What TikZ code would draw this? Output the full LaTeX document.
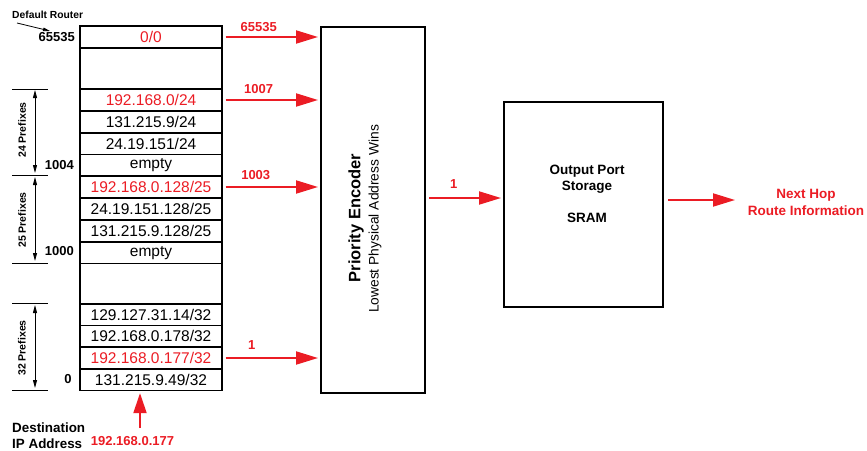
\documentclass[tikz,border=0pt]{standalone}
\usepackage{fontspec}
\setmainfont{Liberation Sans}
\usetikzlibrary{arrows.meta}
\definecolor{rd}{RGB}{235,28,36}
\begin{document}
\begin{tikzpicture}[x=1pt,y=-1pt,
  cell/.style={draw, line width=1.3pt, minimum width=142pt, inner sep=0pt,
    font=\fontsize{15.5}{18}\selectfont},
  redcell/.style={cell, text=rd},
  bigbox/.style={draw, line width=2pt, inner sep=0pt},
  redarrow/.style={draw=rd, line width=2pt, -{Triangle[length=22pt,width=13pt]}},
  blkarrow/.style={draw=black, line width=0.9pt, {Triangle[length=8pt,width=4pt]}-{Triangle[length=8pt,width=4pt]}},
  numlab/.style={font=\bfseries\fontsize{13}{15}\selectfont, inner sep=0pt},
  rednum/.style={numlab, text=rd},
  preflab/.style={font=\bfseries\fontsize{10.5}{12}\selectfont, rotate=90, inner sep=0pt},
  brk/.style={line width=0.9pt}
]
\useasboundingbox (0,0) rectangle (867,450);

% table rows
\node[redcell, minimum height=22pt]   (r0)  at (151,37)     {0/0};
\node[cell,    minimum height=41pt]   (g0)  at (151,68.5)   {};
\node[redcell, minimum height=22pt]   (r1)  at (151,100)    {192.168.0/24};
\node[cell,    minimum height=22pt]   (r2)  at (151,122)    {131.215.9/24};
\node[cell,    minimum height=21.5pt] (r3)  at (151,143.75) {24.19.151/24};
\node[cell,    minimum height=21.5pt] (r4)  at (151,165.25) {empty};
\node[redcell, minimum height=22pt]   (r5)  at (151,187)    {192.168.0.128/25};
\node[cell,    minimum height=22pt]   (r6)  at (151,209)    {24.19.151.128/25};
\node[cell,    minimum height=22pt]   (r7)  at (151,231)    {131.215.9.128/25};
\node[cell,    minimum height=21.5pt] (r8)  at (151,252.75) {empty};
\node[cell,    minimum height=40.5pt] (g1)  at (151,283.75) {};
\node[cell,    minimum height=21.5pt] (r9)  at (151,314.75) {129.127.31.14/32};
\node[cell,    minimum height=21.5pt] (r10) at (151,336.25) {192.168.0.178/32};
\node[redcell, minimum height=22pt]   (r11) at (151,358)    {192.168.0.177/32};
\node[cell,    minimum height=21.5pt] (r12) at (151,379.75) {131.215.9.49/32};

% left labels
\node[numlab, anchor=east] (l65535) at (75,37) {65535};
\node[numlab, anchor=east] (l1004) at (74,165) {1004};
\node[numlab, anchor=east] (l1000) at (74,251) {1000};
\node[numlab] (l0) at (68,379) {0};

\node[font=\bfseries\fontsize{10.3}{12}\selectfont, anchor=west, inner sep=0pt] (dr) at (12,15) {Default Router};
\coordinate (dra) at (17,23);
\coordinate (drb) at (50,31);
\draw[line width=0.8pt, -{Triangle[length=7pt,width=3.5pt]}] (dra) -- (drb);

% brackets
\coordinate (b1l) at (12,89);  \coordinate (b1r) at (48,89);
\coordinate (b2l) at (12,175); \coordinate (b2r) at (48,175);
\coordinate (b3l) at (12,263); \coordinate (b3r) at (48,263);
\coordinate (b4l) at (12,303); \coordinate (b4r) at (48,303);
\coordinate (b5l) at (12,390); \coordinate (b5r) at (48,390);
\draw[brk] (b1l) -- (b1r);
\draw[brk] (b2l) -- (b2r);
\draw[brk] (b3l) -- (b3r);
\draw[brk] (b4l) -- (b4r);
\draw[brk] (b5l) -- (b5r);
\coordinate (a1t) at (35,90);  \coordinate (a1b) at (35,173);
\coordinate (a2t) at (35,177); \coordinate (a2b) at (35,261);
\coordinate (a3t) at (35,305); \coordinate (a3b) at (35,388);
\draw[blkarrow] (a1t) -- (a1b);
\draw[blkarrow] (a2t) -- (a2b);
\draw[blkarrow] (a3t) -- (a3b);
\node[preflab] (p24) at (22,130) {24 Prefixes};
\node[preflab] (p25) at (22,220) {25 Prefixes};
\node[preflab] (p32) at (22,348) {32 Prefixes};

% priority encoder
\node[bigbox, minimum width=104pt, minimum height=366pt] (enc) at (373,210) {};
\node[rotate=90, font=\bfseries\fontsize{16.5}{19}\selectfont, inner sep=0pt] (pe) at (356,218) {Priority Encoder};
\node[rotate=90, font=\fontsize{13.8}{16}\selectfont, inner sep=0pt] (lw) at (375,219) {Lowest Physical Address Wins};

% arrows into encoder
\draw[redarrow, shorten <=3pt, shorten >=2pt] (r0.east) -- (r0.east -| enc.west)
  node[rednum, pos=0.37, above=4pt] {65535};
\draw[redarrow, shorten <=3pt, shorten >=2pt] (r1.east) -- (r1.east -| enc.west)
  node[rednum, pos=0.37, above=5pt] {1007};
\draw[redarrow, shorten <=3pt, shorten >=2pt] (r5.east) -- (r5.east -| enc.west)
  node[rednum, pos=0.34, above=6pt] {1003};
\draw[redarrow, shorten <=3pt, shorten >=2pt] (r11.east) -- (r11.east -| enc.west)
  node[rednum, pos=0.30, above=8pt] {1};

% SRAM
\node[bigbox, minimum width=159pt, minimum height=205pt] (sram) at (583.5,204.5) {};
\node[font=\bfseries\fontsize{13.5}{16}\selectfont, align=center, inner sep=0pt] (st) at (587,194)
  {Output Port\\Storage\\[16pt]SRAM};
\coordinate (m1) at (0,198);
\draw[redarrow, shorten <=3pt, shorten >=2pt] (enc.east |- m1) -- (sram.west |- m1)
  node[rednum, pos=0.36, above=9pt] {1};

% next hop
\node[font=\bfseries\fontsize{13.5}{17}\selectfont, text=rd, align=center, inner sep=0pt] (nh) at (806,202)
  {Next Hop\\Route Information};
\coordinate (m2) at (0,200);
\coordinate (m2e) at (735,200);
\draw[redarrow, shorten <=4pt] (sram.east |- m2) -- (m2e);

% destination
\node[font=\bfseries\fontsize{13.4}{16}\selectfont, align=left, anchor=west, inner sep=0pt] (dst) at (12,436)
  {Destination\\IP Address};
\node[rednum] (ip) at (132.5,441) {192.168.0.177};
\coordinate (da) at (140,428);
\draw[redarrow, -{Triangle[length=20pt,width=13pt]}, shorten >=2pt] (da) -- (da |- r12.south);
\end{tikzpicture}
\end{document}
